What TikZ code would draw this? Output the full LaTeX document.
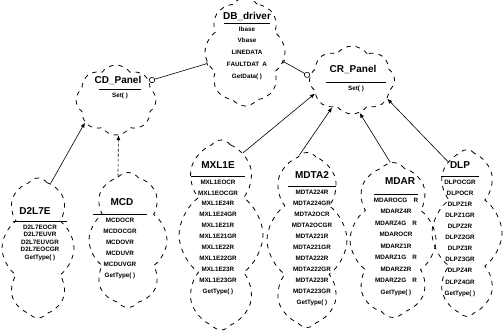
\documentclass[tikz,border=0pt]{standalone}
\usepackage{fontspec}
\setmainfont{Liberation Sans}
\usetikzlibrary{arrows.meta,shapes.symbols}
\tikzset{classcloud/.style={cloud,cloud puffs=8,cloud puff arc=110,cloud ignores aspect,draw,dash pattern=on 4.5pt off 5pt,line width=0.8pt}}

\begin{document}
\begin{tikzpicture}[x=1pt,y=-1pt,
            clsname/.style={font=\bfseries\fontsize{10}{10}\selectfont,inner sep=0pt},
            clsops/.style={font=\bfseries\fontsize{6.3}{#1}\selectfont,align=center,anchor=north,inner sep=0pt},
            inherit/.style={draw,line width=0.6pt,-{Latex[length=5pt,width=4pt]}},
            has/.style={draw,line width=0.6pt,{Bar[width=4pt]}-{Circle[open,length=6pt]}},
            sepline/.style={line width=0.7pt}
            ]
            \useasboundingbox (0,0) rectangle (503,332);
            % clouds
            \node[classcloud,minimum width=80,minimum height=108] (dbdrv) at (245,52) {};
            \node[classcloud,minimum width=80,minimum height=70] (cdpan) at (116,100) {};
            \node[classcloud,minimum width=85,minimum height=68] (crpan) at (352,80) {};
            \node[classcloud,minimum width=72,minimum height=140] (d2l7e) at (38,248) {};
            \node[classcloud,minimum width=78,minimum height=135] (mcd) at (128,240) {};
            \node[classcloud,minimum width=84,minimum height=190] (mxl) at (221,235) {};
            \node[classcloud,minimum width=80,minimum height=175] (mdta) at (307,240) {};
            \node[classcloud,minimum width=86,minimum height=155] (mdar) at (393,240) {};
            \node[classcloud,minimum width=70,minimum height=167] (dlp) at (467,233) {};
            % names and operations
            \node[clsname] (dbdrv-n) at (247,16) {DB\_driver};
            \node[clsops=11.7] (dbdrv-o) at (247,26.5) {Ibase\\Vbase\\LINEDATA\\FAULTDAT\enspace A\\GetData( )};
            \node[clsname] (cdpan-n) at (118,80) {CD\_Panel};
            \node[clsops=11] (cdpan-o) at (120,92.5) {Set( )};
            \node[clsname] (crpan-n) at (353,69) {CR\_Panel};
            \node[clsops=11] (crpan-o) at (356,85.5) {Set( )};
            \node[clsname] (d2l7e-n) at (35,211) {D2L7E};
            \node[clsops=7.6] (d2l7e-o) at (40,224.5) {D2L7EOCR\\D2L7EUVR\\D2L7EUVGR\\D2L7EOCGR\\GetType( )};
            \node[clsname] (mcd-n) at (122,202) {MCD};
            \node[clsops=11] (mcd-o) at (120,217.5) {MCDOCR\\MCDOCGR\\MCDOVR\\MCDUVR\\MCDUVGR\\GetType( )};
            \node[clsname] (mxl-n) at (218,165) {MXL1E};
            \node[clsops=10.9] (mxl-o) at (218,179.5) {MXL1EOCR\\MXL1EOCGR\\MXL1E24R\\MXL1E24GR\\MXL1E21R\\MXL1E21GR\\MXL1E22R\\MXL1E22GR\\MXL1E23R\\MXL1E23GR\\GetType( )};
            \node[clsname] (mdta-n) at (312,175) {MDTA2};
            \node[clsops=11] (mdta-o) at (312,189.5) {MDTA224R\\MDTA224GR\\MDTA2OCR\\MDTA2OCGR\\MDTA221R\\MDTA221GR\\MDTA222R\\MDTA222GR\\MDTA223R\\MDTA223GR\\GetType( )};
            \node[clsname] (mdar-n) at (400,181) {MDAR};
            \node[clsops=11.5] (mdar-o) at (396,197.5) {MDAROCG\quad R\\MDARZ4R\\MDARZ4G\quad R\\MDAROCR\\MDARZ1R\\MDARZ1G\quad R\\MDARZ2R\\MDARZ2G\quad R\\GetType( )};
            \node[clsname] (dlp-n) at (460,165) {DLP};
            \node[clsops=11.1] (dlp-o) at (460,179.5) {DLPOCGR\\DLPOCR\\DLPZ1R\\DLPZ1GR\\DLPZ2R\\DLPZ2GR\\DLPZ3R\\DLPZ3GR\\DLPZ4R\\DLPZ4GR\\GetType( )};
            % separators
            \draw[sepline] ([xshift=-23pt,yshift=3pt]dbdrv-o.north) -- ([xshift=23pt,yshift=3pt]dbdrv-o.north);
            \draw[sepline] ([xshift=-21pt,yshift=3pt]cdpan-o.north) -- ([xshift=21pt,yshift=3pt]cdpan-o.north);
            \draw[sepline] ([xshift=-30pt,yshift=3pt]crpan-o.north) -- ([xshift=30pt,yshift=3pt]crpan-o.north);
            \draw[sepline] ([xshift=-27pt,yshift=3pt]d2l7e-o.north) -- ([xshift=27pt,yshift=3pt]d2l7e-o.north);
            \draw[sepline] ([xshift=-27pt,yshift=3pt]mcd-o.north) -- ([xshift=27pt,yshift=3pt]mcd-o.north);
            \draw[sepline] ([xshift=-27pt,yshift=3pt]mxl-o.north) -- ([xshift=27pt,yshift=3pt]mxl-o.north);
            \draw[sepline] ([xshift=-24pt,yshift=3pt]mdta-o.north) -- ([xshift=24pt,yshift=3pt]mdta-o.north);
            \draw[sepline] ([xshift=-22pt,yshift=3pt]mdar-o.north) -- ([xshift=22pt,yshift=3pt]mdar-o.north);
            \draw[sepline] ([xshift=-19pt,yshift=3pt]dlp-o.north) -- ([xshift=19pt,yshift=3pt]dlp-o.north);
            % relations
            \draw[has] (dbdrv.197) -- (cdpan.30);
            \draw[has] (dbdrv.346) -- (crpan.175);
            \draw[inherit] (d2l7e.79) -- (cdpan.216);
            \draw[inherit,densely dashed] (mcd.99) -- (cdpan.274);
            \draw[inherit] (mxl.75) -- (crpan.200);
            \draw[inherit] (mdta.95) -- (crpan.234);
            \draw[inherit] (mdar.92) -- (crpan.283);
            \draw[inherit] (dlp.105) -- (crpan.332);
        \end{tikzpicture}
\end{document}
